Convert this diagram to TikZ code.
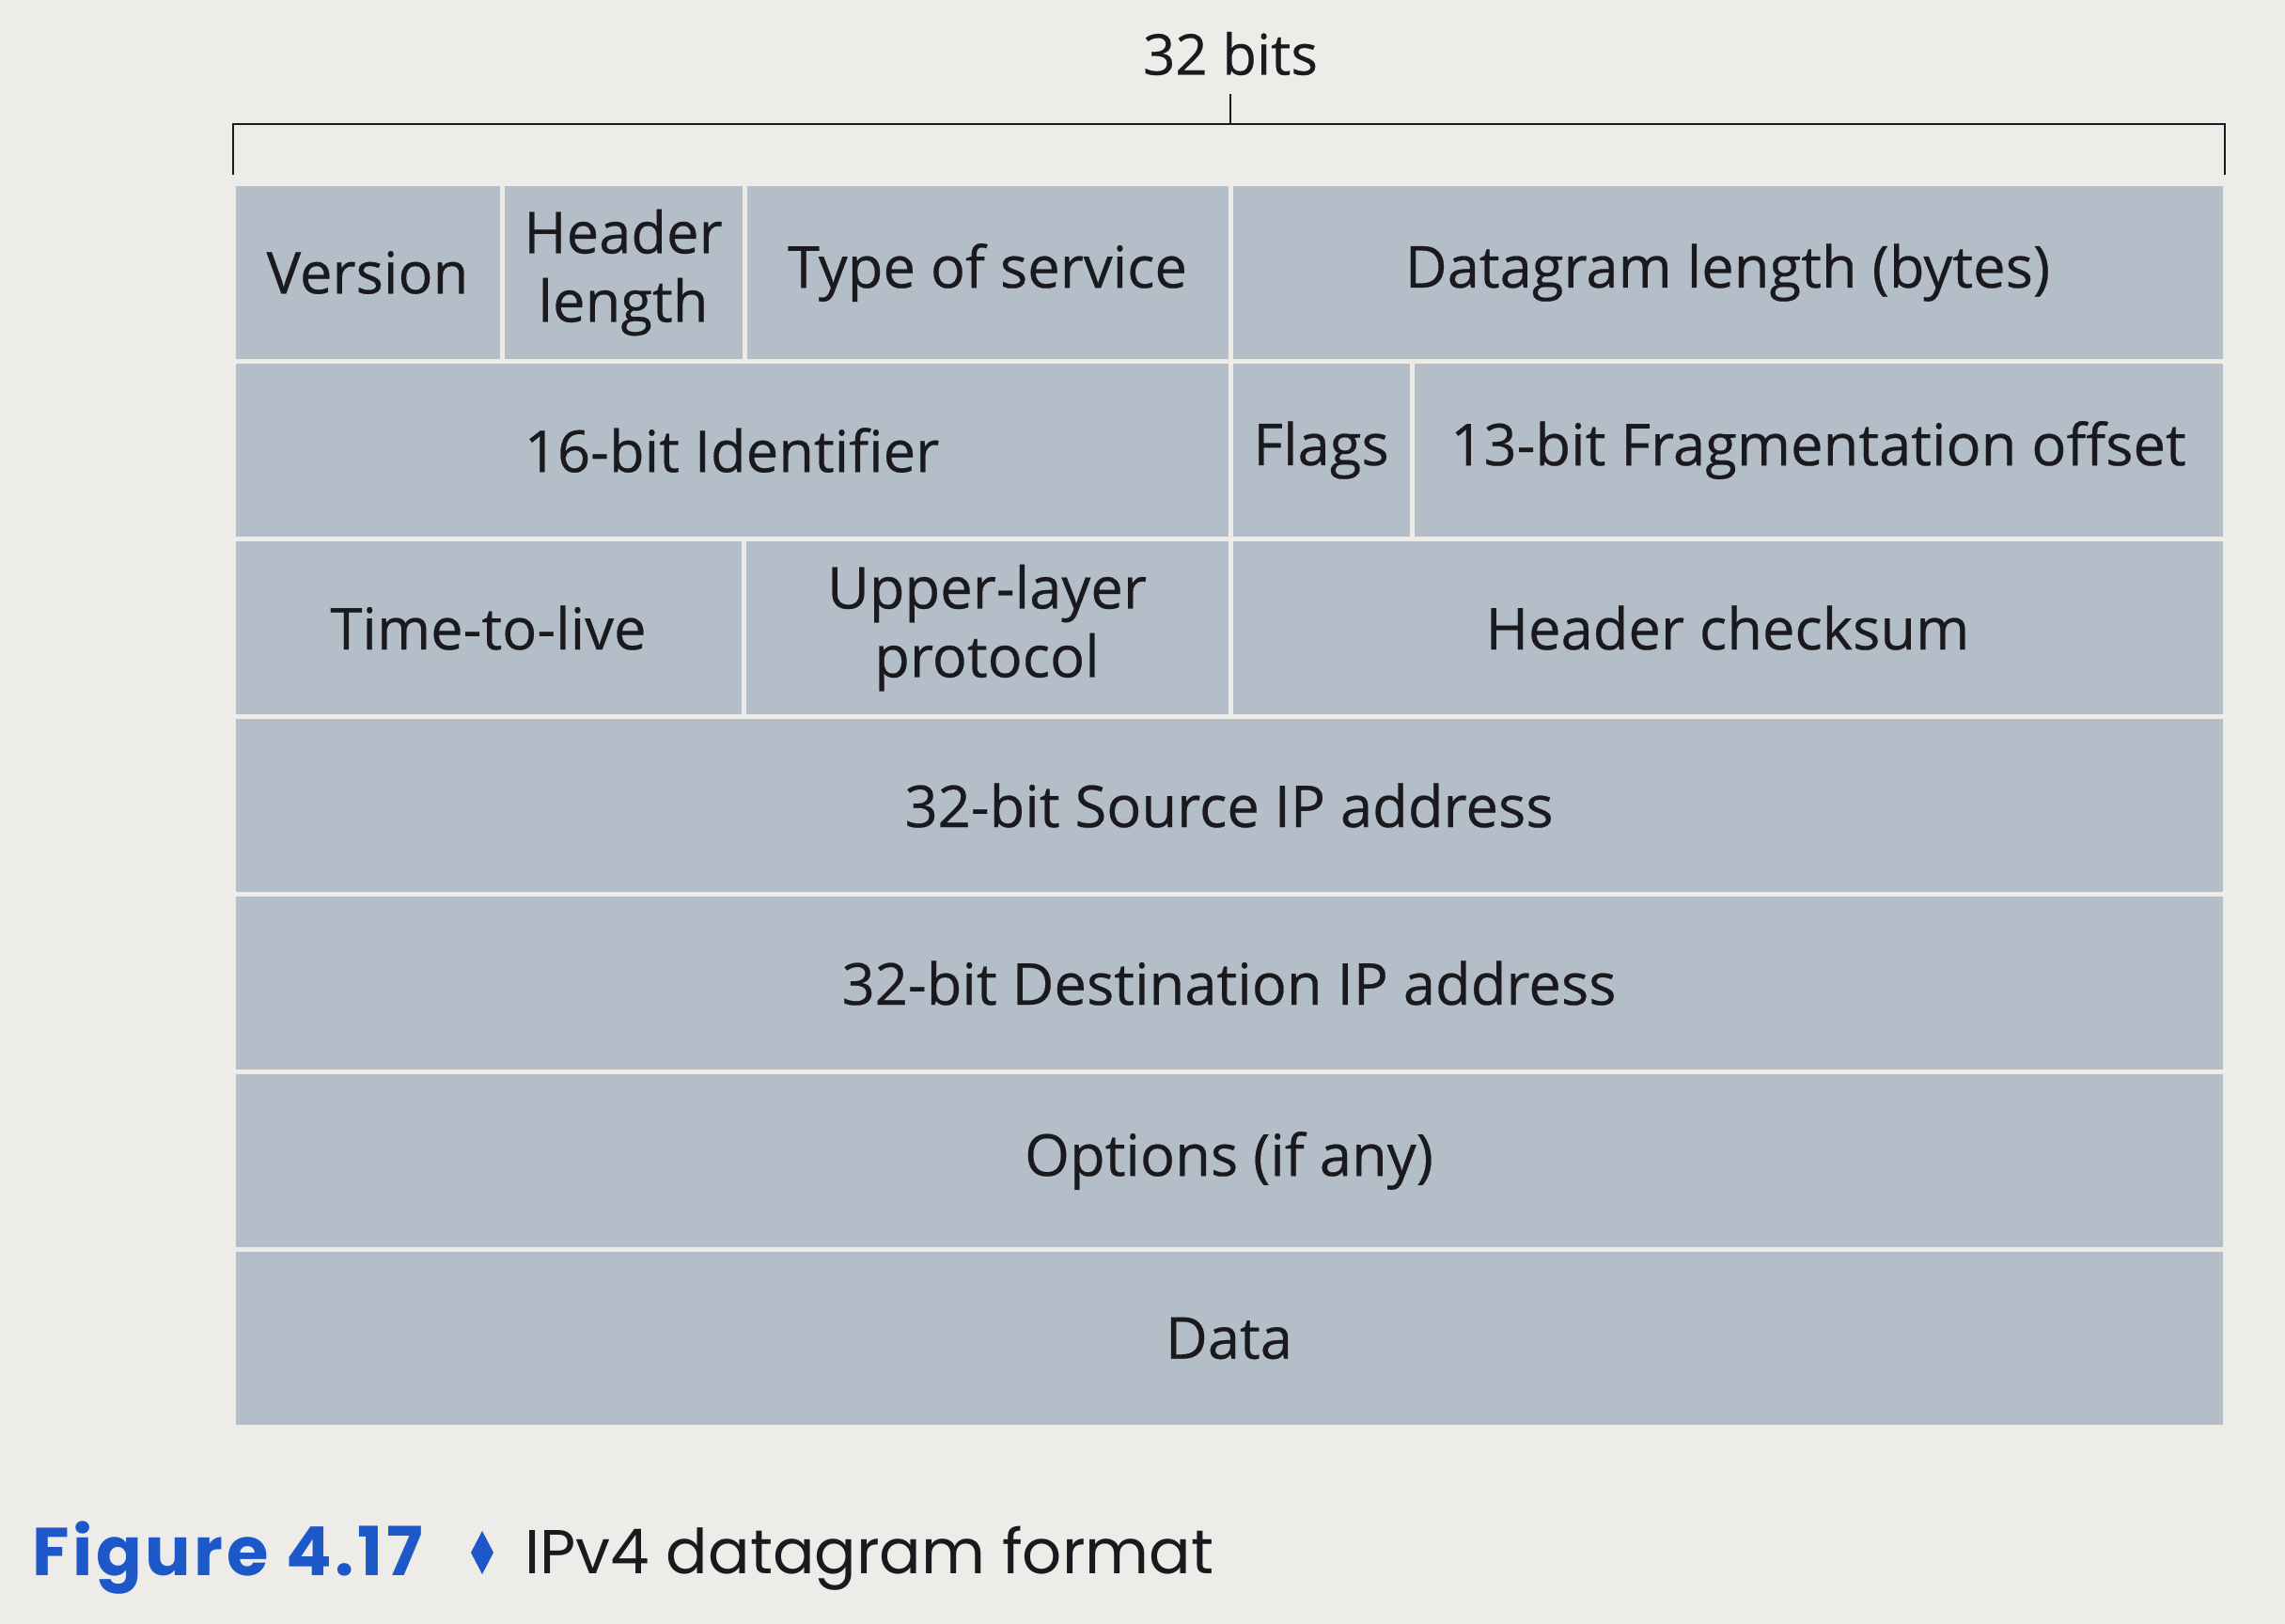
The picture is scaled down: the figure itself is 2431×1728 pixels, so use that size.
\documentclass[tikz,border=0pt]{standalone}
\usepackage{fontspec}
\setmainfont{Open Sans}[FakeBold=0.4]
\newfontfamily\capfont{Poppins}
\newfontfamily\capboldfont{Poppins}[FakeBold=0, LetterSpace=5]
\definecolor{paper}{RGB}{237,236,232}
\definecolor{cellfill}{RGB}{180,190,201}
\definecolor{ink}{RGB}{26,26,30}
\definecolor{figblue}{RGB}{28,88,200}
\newcommand\fieldfont{\fontsize{61.5}{73}\selectfont}
% one header field: name, left x, right x, row index, label
\newcommand\hdrfield[5]{%
  \node[field, minimum width={#3-#2-5}, minimum height=184]
    (#1) at ({(#2+#3)/2},{290+189*#4}) {#5};}
\begin{document}
\begin{tikzpicture}[x=1pt,y=-1pt,
  field/.style={fill=cellfill, inner sep=0pt, text=ink, font=\fieldfont, align=center},
  bracket/.style={draw=ink, line width=2.6pt, line join=miter},
  caption/.style={inner sep=0pt, anchor=base west}]
\useasboundingbox (0,0) rectangle (2431,1728);
\fill[paper] (0,0) rectangle (2431,1728);

% width bracket above the header
\coordinate (bl) at (248,186);
\coordinate (btl) at (248,132);
\coordinate (btr) at (2367,132);
\coordinate (br) at (2367,186);
\coordinate (bm) at (1309,132);
\coordinate (bmt) at (1309,100);
\draw[bracket] (bl) -- (btl) -- (btr) -- (br);
\draw[bracket] (bm) -- (bmt);
\node[font=\fontsize{60}{72}\selectfont, text=ink, inner sep=0pt] (width) at (1309,57) {32 bits};

% row 0
\hdrfield{version}{248}{534}{0}{Version}
\hdrfield{hlen}{534}{792}{0}{Header\\length}
\hdrfield{tos}{792}{1309}{0}{Type of service}
\hdrfield{dlen}{1309}{2367}{0}{Datagram length (bytes)}
% row 1
\hdrfield{ident}{248}{1309}{1}{16-bit Identifier}
\hdrfield{flags}{1309}{1502}{1}{Flags}
\hdrfield{fragoff}{1502}{2367}{1}{13-bit Fragmentation offset}
% row 2
\hdrfield{ttl}{248}{791}{2}{Time-to-live}
\hdrfield{proto}{791}{1309}{2}{Upper-layer\\protocol}
\hdrfield{cksum}{1309}{2367}{2}{Header checksum}
% full-width rows
\hdrfield{srcip}{248}{2367}{3}{32-bit Source IP address}
\hdrfield{dstip}{248}{2367}{4}{32-bit Destination IP address}
\hdrfield{options}{248}{2367}{5}{Options (if any)}
\hdrfield{data}{248}{2367}{6}{Data}

% caption
\node[caption, text=figblue, font=\capboldfont\bfseries\fontsize{72}{80}\selectfont] (fignum) at (34,1676) {Figure 4.17};
\fill[figblue] (513,1629) -- (525,1652) -- (513,1675) -- (501,1652) -- cycle;
\node[caption, text=ink, font=\capfont\fontsize{66}{72}\selectfont] (figtitle) at (558,1674) {IPv4 datagram format};
\end{tikzpicture}
\end{document}
